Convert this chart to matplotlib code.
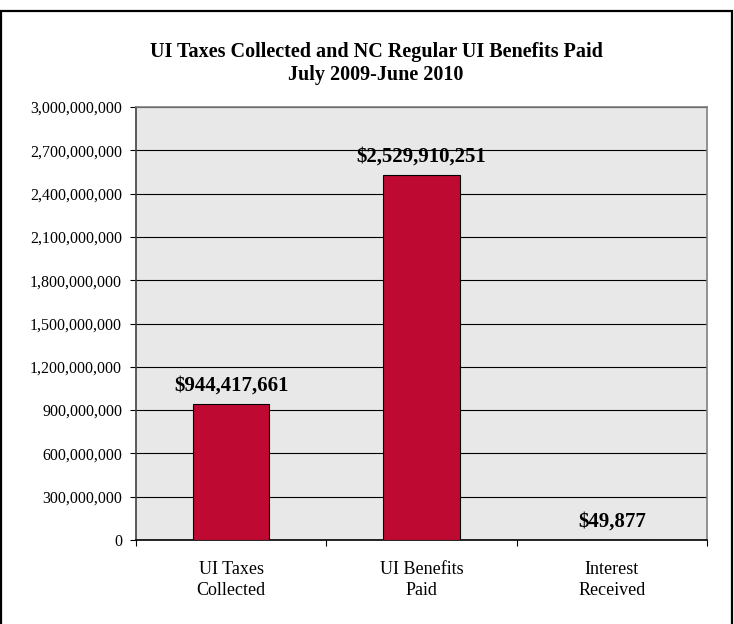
import matplotlib.pyplot as plt
from matplotlib.patches import Rectangle
from matplotlib.ticker import FuncFormatter, FixedLocator

# data
categories = ["UI Taxes\nCollected", "UI Benefits\nPaid", "Interest\nReceived"]
values = [944417661, 2529910251, 49877]
value_labels = ["$944,417,661", "$2,529,910,251", "$49,877"]
y_ticks = list(range(0, 3000000001, 300000000))

plt.rcParams['font.family'] = ['Liberation Serif', 'DejaVu Serif']

fig = plt.figure(figsize=(7.34, 6.24), dpi=100)
W, H = 734, 624

# outer chart border
fig.patches.append(Rectangle((1.5 / W, -0.02), 730.5 / W, 1 - 10.7 / H + 0.02,
                             transform=fig.transFigure, fill=False,
                             edgecolor='black', linewidth=1.6))

ax = fig.add_axes([136 / W, 1 - 540 / H, (707 - 136) / W, (540 - 107) / H])
ax.set_facecolor('#e8e8e8')

x = list(range(len(categories)))
ax.bar(x, values, width=0.4, color='#be0a32', edgecolor='black', linewidth=0.8, zorder=3)

ax.set_xlim(-0.5, len(categories) - 0.5)
ax.set_ylim(0, 3000000000)
ax.set_yticks(y_ticks)
ax.yaxis.set_major_formatter(FuncFormatter(lambda v, p: f"{int(v):,}"))
ax.grid(axis='y', color='black', linewidth=0.8, zorder=1)
ax.set_axisbelow(True)

ax.set_xticks(x)
ax.set_xticklabels(categories, fontsize=13, linespacing=1.3)
ax.xaxis.set_minor_locator(FixedLocator([-0.5, 0.5, 1.5, 2.5]))
ax.tick_params(axis='x', which='major', length=0, pad=15)
ax.tick_params(axis='x', which='minor', length=4, width=0.8, direction='out')
ax.tick_params(axis='y', length=4, width=0.8, pad=6, labelsize=11.5)

for s in ['top', 'right']:
    ax.spines[s].set_color('#808080')
    ax.spines[s].set_linewidth(1.2)
ax.spines['left'].set_color('#404040')
ax.spines['left'].set_linewidth(1.2)
ax.spines['bottom'].set_color('black')
ax.spines['bottom'].set_linewidth(1.2)

for xi, v, lab in zip(x, values, value_labels):
    ax.annotate(lab, (xi, v), xytext=(0, 6), textcoords='offset points',
                ha='center', va='bottom', fontsize=15, fontweight='bold', zorder=4)

fig.text(376 / W, 1 - 52 / H, "UI Taxes Collected and NC Regular UI Benefits Paid",
         ha='center', va='center', fontsize=14.5, fontweight='bold')
fig.text(376 / W, 1 - 75 / H, "July 2009-June 2010",
         ha='center', va='center', fontsize=14.5, fontweight='bold')

fig.savefig('out.png', dpi=100)
